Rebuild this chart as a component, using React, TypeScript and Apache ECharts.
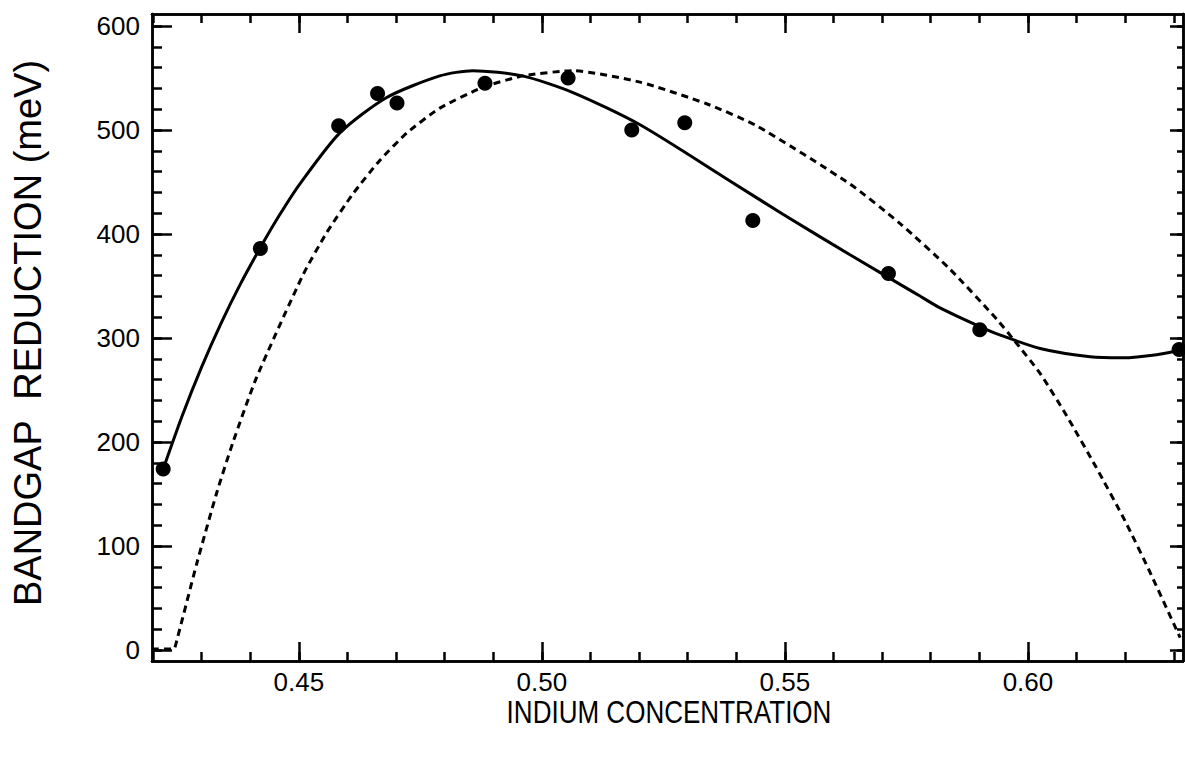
import React, { useEffect, useRef } from "react";
import * as echarts from "echarts";

// Measured data points (indium concentration, bandgap reduction meV)
const pointX = [0.4221, 0.4421, 0.4582, 0.4662, 0.4702, 0.4883, 0.5054, 0.5185, 0.5294, 0.5434, 0.5713, 0.5901, 0.6311];
const pointY = [174, 386, 504, 535, 526, 545, 550, 500, 507, 413, 362, 308, 289];

// Solid fitted curve
const solidX = [0.4221, 0.426, 0.43, 0.434, 0.438, 0.4421, 0.446, 0.4502, 0.4584, 0.468, 0.479, 0.4858, 0.496, 0.5064, 0.5202, 0.5387, 0.5496, 0.5634, 0.5772, 0.5819, 0.5901, 0.5942, 0.6025, 0.6128, 0.6195, 0.6265, 0.6319];
const solidY = [174, 225, 272, 314, 352, 387, 418, 448, 497, 531, 552, 557, 552, 536, 505, 451, 419, 380, 342, 329, 311, 303, 290, 282, 281, 284, 289];

// Dashed curve
const dashX = [0.4198, 0.4243, 0.4245, 0.429, 0.4331, 0.4364, 0.4413, 0.4509, 0.4557, 0.4612, 0.4667, 0.4722, 0.479, 0.4879, 0.4961, 0.5064, 0.5202, 0.534, 0.5442, 0.5634, 0.5737, 0.584, 0.5936, 0.5973, 0.6025, 0.608, 0.614, 0.62, 0.6251, 0.6313];
const dashY = [1, 1, 2, 83, 151, 199, 262, 361, 401, 439, 471, 497, 521, 541, 552, 557, 546, 525, 504, 448, 410, 366, 318, 297, 266, 225, 176, 124, 75, 12];

// Axis ticks
const xMajor = [0.45, 0.5, 0.55, 0.6];
const xMinor = [0.42, 0.43, 0.44, 0.45, 0.46, 0.47, 0.48, 0.49, 0.5, 0.51, 0.52, 0.53, 0.54, 0.55, 0.56, 0.57, 0.58, 0.59, 0.6, 0.61, 0.62, 0.63];
const yMajor = [0, 100, 200, 300, 400, 500, 600];
const yMinor = [0, 20, 40, 60, 80, 100, 120, 140, 160, 180, 200, 220, 240, 260, 280, 300, 320, 340, 360, 380, 400, 420, 440, 460, 480, 500, 520, 540, 560, 580, 600];

const X_MIN = 0.4198;
const X_MAX = 0.6319;
const Y_MIN = -10.5;
const Y_MAX = 611.5;

const FONT = "'Liberation Sans', Arial, Helvetica, sans-serif";
const LINE = { color: "#000", width: 2.5 };

function xAxis(position: string, ticks: number[], len: number, labels: boolean) {
  return {
    type: "value",
    position,
    min: X_MIN,
    max: X_MAX,
    axisLine: { show: true, onZero: false, lineStyle: LINE },
    axisTick: { show: true, inside: true, length: len, customValues: ticks, lineStyle: { color: "#000", width: 2.5 } },
    axisLabel: labels
      ? { show: true, customValues: ticks, formatter: (v: number) => v.toFixed(2), color: "#000", fontSize: 26, fontFamily: FONT, margin: 8 }
      : { show: false },
    splitLine: { show: false },
  };
}

function yAxis(position: string, ticks: number[], len: number, labels: boolean) {
  return {
    type: "value",
    position,
    min: Y_MIN,
    max: Y_MAX,
    axisLine: { show: true, onZero: false, lineStyle: LINE },
    axisTick: { show: true, inside: true, length: len, customValues: ticks, lineStyle: { color: "#000", width: 2.5 } },
    axisLabel: labels
      ? { show: true, customValues: ticks, formatter: (v: number) => String(v), color: "#000", fontSize: 26, fontFamily: FONT, margin: 12 }
      : { show: false },
    splitLine: { show: false },
  };
}

export default function App() {
  const ref = useRef<HTMLDivElement>(null);
  useEffect(() => {
    if (!ref.current) return;
    const chart = echarts.init(ref.current, null, { renderer: "svg" });
    chart.setOption({
      animation: false,
      backgroundColor: "#fff",
      grid: { left: 152, right: 2, top: 14, bottom: 96, containLabel: false },
      xAxis: [
        xAxis("bottom", xMajor, 19, true),
        xAxis("bottom", xMinor, 9, false),
        xAxis("top", xMajor, 19, false),
        xAxis("top", xMinor, 9, false),
      ],
      yAxis: [
        yAxis("left", yMajor, 20, true),
        yAxis("left", yMinor, 10, false),
        yAxis("right", yMajor, 13, false),
        yAxis("right", yMinor, 6, false),
      ],
      graphic: [
        {
          type: "text",
          x: 669,
          y: 712,
          scaleX: 0.84,
          style: { text: "INDIUM CONCENTRATION", font: `31px ${FONT}`, fill: "#000", textAlign: "center", textVerticalAlign: "middle" },
        },
        {
          type: "text",
          x: 28,
          y: 333,
          rotation: Math.PI / 2,
          style: { text: "BANDGAP  REDUCTION (meV)", font: `38px ${FONT}`, fill: "#000", textAlign: "center", textVerticalAlign: "middle" },
        },
      ],
      series: [
        {
          type: "line",
          xAxisIndex: 0,
          yAxisIndex: 0,
          data: dashX.map((x, i) => [x, dashY[i]]),
          showSymbol: false,
          smooth: 0.2,
          lineStyle: { color: "#000", width: 3, type: [7, 5] },
          z: 2,
        },
        {
          type: "line",
          xAxisIndex: 0,
          yAxisIndex: 0,
          data: solidX.map((x, i) => [x, solidY[i]]),
          showSymbol: false,
          smooth: 0.25,
          lineStyle: { color: "#000", width: 3 },
          z: 3,
        },
        {
          type: "scatter",
          xAxisIndex: 0,
          yAxisIndex: 0,
          data: pointX.map((x, i) => [x, pointY[i]]),
          symbol: "circle",
          symbolSize: 15,
          itemStyle: { color: "#000", opacity: 1 },
          z: 4,
        },
      ],
    });
    return () => chart.dispose();
  }, []);
  return <div ref={ref} style={{ position: "fixed", left: 0, top: 0, width: 1185, height: 757 }} />;
}
